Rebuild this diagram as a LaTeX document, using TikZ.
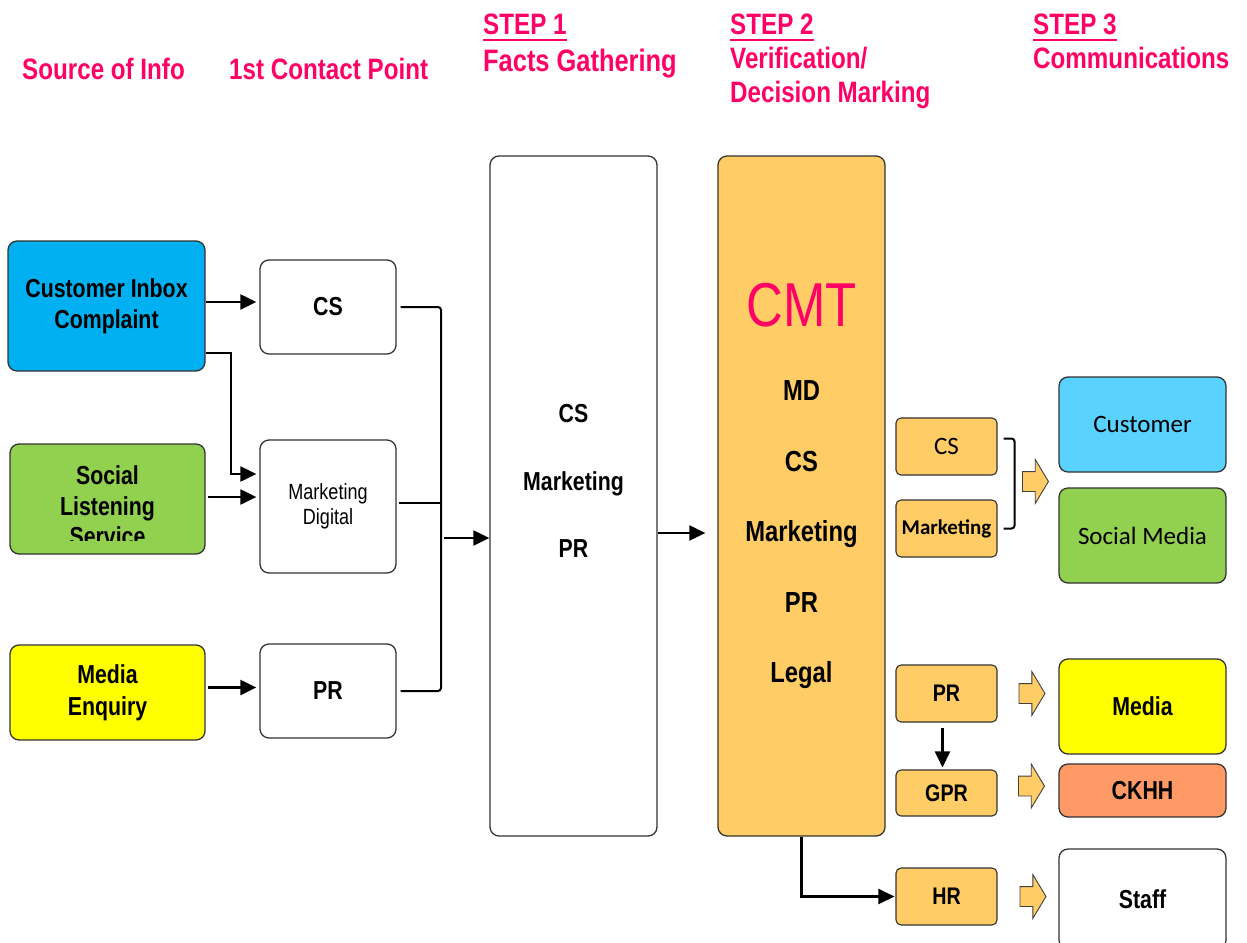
\documentclass[tikz,border=0pt]{standalone}
\usepackage{fontspec}
\setmainfont{Liberation Sans}[FakeStretch=0.82]
\newfontfamily\calibrifont{Carlito}
\usetikzlibrary{arrows.meta,shapes.arrows,positioning}

\definecolor{hdrpink}{RGB}{255,0,102}
\definecolor{inboxblue}{RGB}{0,176,240}
\definecolor{leafgreen}{RGB}{146,208,80}
\definecolor{mediayellow}{RGB}{255,255,0}
\definecolor{cmtorange}{RGB}{255,204,102}
\definecolor{custblue}{RGB}{89,210,255}
\definecolor{ckhhsalmon}{RGB}{255,153,102}

\tikzset{
  hdr/.style={text=hdrpink, inner sep=0pt, font=\fontsize{29.5}{34}\selectfont\bfseries},
  bigbox/.style={draw=black!80, line width=1.3pt, rounded corners=9pt, align=center, inner sep=0pt},
  smallbox/.style={draw=black!80, line width=1.1pt, rounded corners=5pt, fill=cmtorange,
    minimum width=101pt, minimum height=57pt, inner sep=0pt},
  boxsize/.style 2 args={minimum width=#1pt, minimum height=#2pt},
  bodyfont/.style={font=\fontsize{26}{31}\selectfont\bfseries},
  flow/.style={line width=2.2pt, -{Triangle[length=16pt,width=15pt]}},
  bracket/.style={line width=2pt, rounded corners=3pt},
  blockarrow/.style={single arrow, draw=black!75, line width=0.9pt, fill=cmtorange,
    minimum height=26pt, minimum width=43pt, single arrow head extend=12pt,
    single arrow tip angle=118, inner xsep=0pt, inner ysep=9.5pt, anchor=tail}
}

\begin{document}
\begin{tikzpicture}[x=1pt,y=-1pt]
  \useasboundingbox (0,0) rectangle (1247,942);

  % Column headings
  \node[hdr, anchor=base west] (srchdr) at (22,80) {Source of Info};
  \node[hdr, anchor=base west] (contacthdr) at (229,80) {1st Contact Point};
  \node[hdr, anchor=base west] (step1hdr) at (483,35) {STEP 1};
  \node[hdr, anchor=base west, font=\fontsize{31}{35}\selectfont\bfseries] (factshdr) at (483,71) {Facts Gathering};
  \node[hdr, anchor=base west] (step2hdr) at (730,35) {STEP 2};
  \node[hdr, anchor=base west] (verifhdr) at (730,69) {Verification/};
  \node[hdr, anchor=base west] (decisionhdr) at (730,102) {Decision Marking};
  \node[hdr, anchor=base west] (step3hdr) at (1033,35) {STEP 3};
  \node[hdr, anchor=base west] (commshdr) at (1033,69) {Communications};
  \foreach \s in {step1hdr,step2hdr,step3hdr}
    \draw[hdrpink, line width=2.8pt] ([yshift=-5pt]\s.base west) -- ([yshift=-5pt]\s.base east);

  % Sources of info
  \node[bigbox, boxsize={197}{130}, fill=inboxblue, bodyfont] (inbox) at (106.5,306) {Customer Inbox\\Complaint};
  \node[bigbox, boxsize={195}{110}, fill=leafgreen] (social) at (107.5,499) {};
  \begin{scope}
    \clip (10,444) rectangle (205,540);
    \node[align=center, inner sep=0pt, font=\fontsize{26}{30.5}\selectfont\bfseries] (socialtxt) at (107.5,506) {Social\\Listening\\Service};
  \end{scope}
  \node[bigbox, boxsize={195}{95}, fill=mediayellow, font=\fontsize{26}{32}\selectfont\bfseries] (enquiry) at (107.5,692.5) {Media\\Enquiry};

  % 1st contact points
  \node[bigbox, boxsize={136}{94}, bodyfont] (cscp) at (328,307) {CS};
  \node[bigbox, boxsize={136}{133}, font=\fontsize{22}{25}\selectfont] (mktdig) at (328,506.5) {Marketing\\Digital};
  \node[bigbox, boxsize={136}{94}, bodyfont] (prcp) at (328,691) {PR};

  % Step 1 and step 2 columns
  \node[bigbox, boxsize={167}{680}] (step1) at (573.5,496) {};
  \node[align=center, inner sep=0pt, font=\fontsize{26}{67.5}\selectfont\bfseries] (step1txt) at (573.5,481) {CS\\Marketing\\PR};
  \node[bigbox, boxsize={167}{680}, fill=cmtorange] (cmt) at (801.5,496) {};
  \node[text=hdrpink, inner sep=0pt, font=\fontsize{62}{70}\selectfont] (cmttitle) at (801.5,305) {CMT};
  \node[align=center, inner sep=0pt, font=\fontsize{29}{70.5}\selectfont\bfseries] (cmttxt) at (801.5,535) {MD\\CS\\Marketing\\PR\\Legal};

  % Step 3 owners
  \node[smallbox, font=\calibrifont\fontsize{25}{28}\selectfont] (css) at (946.5,446.5) {CS};
  \node[smallbox, font=\calibrifont\fontsize{21}{25}\selectfont\bfseries] (mks) at (946.5,528.5) {Marketing};
  \node[smallbox, font=\fontsize{24}{28}\selectfont\bfseries] (prs) at (946.5,693.5) {PR};
  \node[smallbox, minimum height=46pt, font=\fontsize{24}{28}\selectfont\bfseries] (gprs) at (946.5,793) {GPR};
  \node[smallbox, font=\fontsize{24}{28}\selectfont\bfseries] (hrs) at (946.5,896.5) {HR};

  % Audiences
  \node[bigbox, boxsize={167}{95}, fill=custblue, font=\calibrifont\fontsize{25}{30}\selectfont] (customer) at (1142.5,424.5) {Customer};
  \node[bigbox, boxsize={167}{95}, fill=leafgreen, font=\calibrifont\fontsize{25}{30}\selectfont] (socmedia) at (1142.5,535.5) {Social Media};
  \node[bigbox, boxsize={167}{95}, fill=mediayellow, bodyfont] (media) at (1142.5,706.5) {Media};
  \node[bigbox, boxsize={167}{53}, fill=ckhhsalmon, bodyfont] (ckhh) at (1142.5,790.5) {CKHH};
  \node[bigbox, boxsize={167}{100}, fill=white, bodyfont] (staff) at (1142.5,899) {Staff};

  % Block arrows
  \node[blockarrow] (arrcust) at (1022,481.5) {};
  \node[blockarrow] (arrmedia) at ([xshift=21pt]prs.east) {};
  \node[blockarrow] (arrckhh) at (1018,786) {};
  \node[blockarrow] (arrstaff) at ([xshift=22pt]hrs.east) {};

  % Connectors
  \draw[flow, shorten >=3pt] ([yshift=4pt]inbox.east) -- ([yshift=4pt]inbox.east -| cscp.west);
  \draw[flow, shorten >=3pt] ([yshift=-47pt]inbox.east) -- ++(25,0) |- ([yshift=32.5pt]mktdig.west);
  \draw[flow, shorten <=2pt, shorten >=3pt] ([yshift=2pt]social.east) -- ([yshift=2pt]social.east -| mktdig.west);
  \draw[flow, shorten <=2pt, shorten >=3pt] ([yshift=5pt]enquiry.east) -- ([yshift=5pt]enquiry.east -| prcp.west);

  \coordinate (joinx) at (441,0);
  \draw[bracket, shorten <=4pt] (cscp.east) -| (joinx |- prcp.east) -- ([xshift=4pt]prcp.east);
  \draw[line width=2pt, shorten <=2pt] ([yshift=4pt]mktdig.east) -- ([yshift=4pt]mktdig.east -| joinx);
  \draw[flow, shorten <=3pt] ([yshift=-42pt]step1.west -| joinx) -- ([yshift=-42pt]step1.west);
  \draw[flow, shorten >=12pt] ([yshift=-37pt]step1.east) -- ([yshift=-37pt]cmt.west);

  \draw[flow, shorten >=1pt] (cmt.south) |- (hrs.west);
  \draw[flow, shorten <=5pt, shorten >=2pt] ([xshift=-4pt]prs.south) -- ([xshift=-4pt]gprs.north);
  \draw[bracket] ([xshift=6pt,yshift=8pt]css.east) -| ([xshift=17pt]mks.east) -- ([xshift=6pt]mks.east);
\end{tikzpicture}
\end{document}
